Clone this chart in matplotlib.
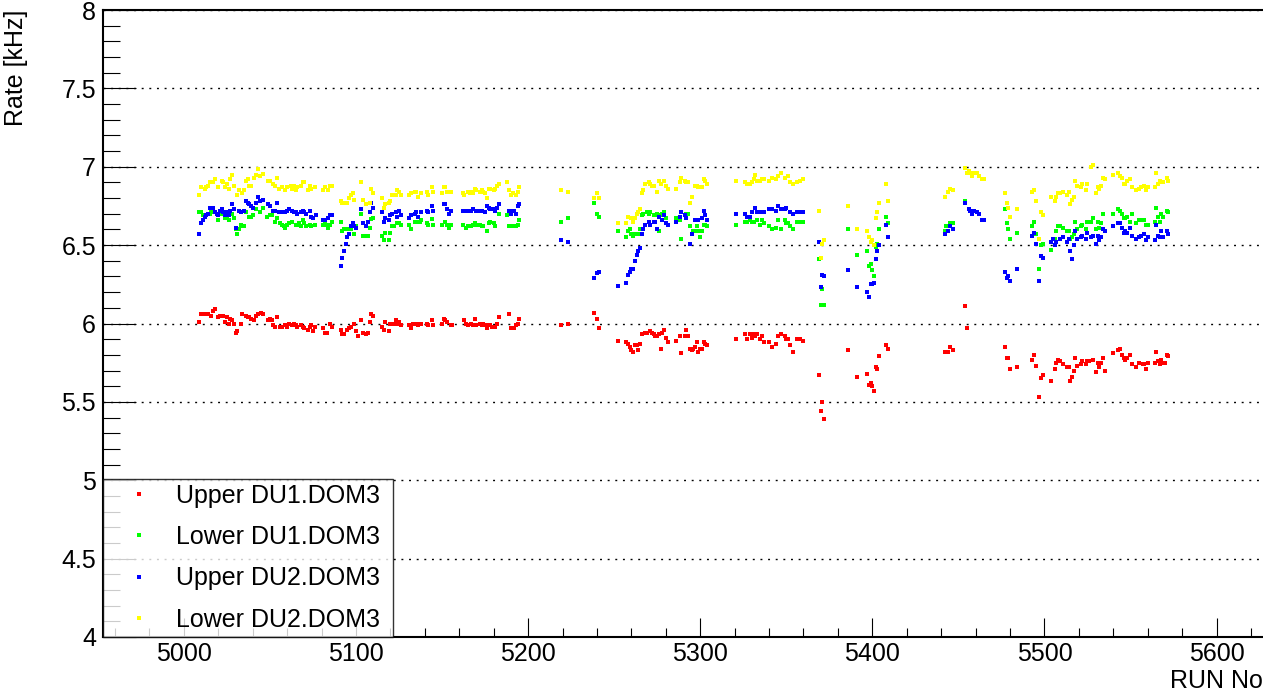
import matplotlib
matplotlib.use("Agg")
import matplotlib.pyplot as plt
from matplotlib.ticker import MultipleLocator, FormatStrFormatter
from matplotlib.lines import Line2D

plt.rcParams["font.family"] = ["Liberation Sans", "DejaVu Sans"]

# ---- data: run number / rate [kHz] ----
labels = ["Upper DU1.DOM3", "Lower DU1.DOM3", "Upper DU2.DOM3", "Lower DU2.DOM3"]
colors = ["#ff0000", "#00ff00", "#0000ff", "#ffff00"]

up1_run = [5009, 5010, 5012, 5014, 5016, 5017, 5018, 5020, 5021, 5023, 5024, 5025, 5026, 5027, 5028, 5029, 5030, 5031, 5033, 5034,
           5036, 5037, 5038, 5039, 5041, 5042, 5043, 5045, 5046, 5049, 5050, 5051, 5052, 5053, 5054, 5056, 5057, 5059, 5060, 5061,
           5063, 5064, 5065, 5066, 5068, 5069, 5070, 5072, 5073, 5074, 5075, 5076, 5081, 5082, 5083, 5085, 5086, 5091, 5092, 5093,
           5095, 5096, 5097, 5099, 5100, 5101,
           5103, 5104, 5106, 5107, 5108, 5109, 5110, 5115, 5116, 5117, 5119, 5120, 5121, 5122, 5123, 5124, 5125, 5126, 5131, 5132,
           5133, 5135, 5136, 5137, 5138, 5141, 5142, 5144, 5145, 5150, 5151, 5152, 5153, 5155, 5156, 5163, 5164, 5165, 5167, 5168,
           5169, 5170, 5172, 5173, 5174, 5175, 5176, 5177, 5178, 5179, 5181, 5182, 5183, 5189, 5190, 5191, 5192, 5193, 5194, 5195,
           5219, 5223, 5238, 5240, 5241, 5252, 5257, 5258, 5259, 5260, 5261, 5262, 5263, 5264, 5265, 5266, 5268, 5269, 5271, 5272,
           5273, 5274, 5275, 5276, 5277, 5278, 5279, 5280, 5281, 5286, 5288, 5289, 5291, 5292, 5293, 5294, 5295, 5296, 5297, 5298,
           5299, 5300, 5301, 5302, 5303, 5304,
           5321, 5326, 5327, 5329, 5330, 5331, 5332, 5333, 5335, 5336, 5337, 5340, 5342, 5344, 5345, 5347, 5349, 5350, 5351, 5352,
           5354, 5356, 5358, 5360, 5369, 5370, 5371, 5372, 5386, 5391, 5397, 5398, 5399, 5400, 5401, 5402, 5403, 5404, 5408, 5409,
           5442, 5444, 5445, 5447, 5454, 5455, 5477, 5478, 5479, 5480, 5484, 5493, 5494, 5495, 5497, 5498, 5499, 5504, 5506, 5507,
           5508, 5509, 5511, 5513, 5514,
           5515, 5516, 5517, 5518, 5519, 5521, 5522, 5524, 5525, 5526, 5528, 5530, 5531, 5532, 5533, 5534, 5535, 5540, 5543, 5544,
           5545, 5546, 5547, 5548, 5550, 5551, 5553, 5555, 5557, 5558, 5559, 5560, 5564, 5565, 5566, 5567, 5568, 5569, 5570, 5571,
           5572]
up1_rate = [6.01, 6.06, 6.06, 6.06, 6.05, 6.08, 6.09, 6.04, 6.05, 6.05, 6.01, 6.04, 6.00, 6.03, 6.02, 6.00, 5.94, 5.95, 6.00, 6.06,
            6.05, 6.04, 6.04, 6.03, 6.02, 6.05, 6.06, 6.07, 6.06, 6.02, 6.03, 6.02, 5.99, 5.98, 6.04, 5.98, 5.98, 5.99, 5.98, 6.00,
            5.99, 6.00, 5.99, 5.98, 5.99, 5.98, 5.97, 5.96, 5.98, 5.99, 5.95, 5.98, 5.97, 5.94, 5.94, 6.00, 5.98, 5.96, 5.93, 5.93,
            5.96, 5.97, 5.98, 6.00, 5.95, 5.92,
            6.02, 5.94, 5.93, 5.94, 6.01, 6.06, 6.05, 5.98, 5.96, 6.01, 5.95, 6.00, 6.00, 6.00, 6.02, 6.00, 6.01, 5.99, 5.99, 5.97,
            6.00, 6.00, 5.99, 6.00, 6.00, 6.00, 5.99, 6.02, 5.99, 6.00, 6.03, 6.02, 6.01, 5.99, 5.99, 6.02, 6.00, 5.99, 6.00, 5.99,
            6.03, 5.99, 6.00, 5.99, 6.00, 5.99, 5.97, 5.99, 5.99, 5.98, 5.98, 6.00, 6.04, 6.06, 5.97, 5.97, 5.97, 5.99, 6.00, 6.03,
            5.99, 6.00, 6.07, 6.03, 5.97, 5.89, 5.88, 5.87, 5.85, 5.83, 5.82, 5.86, 5.86, 5.83, 5.87, 5.93, 5.94, 5.94, 5.95, 5.94,
            5.93, 5.92, 5.92, 5.93, 5.84, 5.94, 5.96, 5.91, 5.88, 5.89, 5.92, 5.81, 5.92, 5.96, 5.92, 5.84, 5.83, 5.84, 5.85, 5.88,
            5.82, 5.84, 5.84, 5.88, 5.87, 5.86,
            5.90, 5.93, 5.90, 5.93, 5.91, 5.93, 5.92, 5.93, 5.90, 5.92, 5.88, 5.88, 5.85, 5.87, 5.92, 5.93, 5.92, 5.90, 5.90, 5.86,
            5.82, 5.90, 5.90, 5.89, 5.67, 5.44, 5.50, 5.39, 5.83, 5.66, 5.68, 5.61, 5.62, 5.60, 5.57, 5.72, 5.71, 5.79, 5.86, 5.84,
            5.82, 5.82, 5.85, 5.83, 6.11, 5.97, 5.85, 5.78, 5.78, 5.71, 5.72, 5.77, 5.80, 5.73, 5.53, 5.65, 5.67, 5.63, 5.71, 5.75,
            5.77, 5.76, 5.74, 5.72, 5.72,
            5.63, 5.66, 5.70, 5.78, 5.73, 5.74, 5.76, 5.74, 5.76, 5.76, 5.77, 5.69, 5.75, 5.72, 5.75, 5.78, 5.70, 5.81, 5.83, 5.84,
            5.80, 5.78, 5.77, 5.78, 5.80, 5.74, 5.72, 5.75, 5.74, 5.74, 5.71, 5.75, 5.75, 5.82, 5.76, 5.74, 5.77, 5.75, 5.75, 5.80,
            5.79]

lo1_run = [5009, 5010, 5011, 5013, 5014, 5015, 5016, 5018, 5020, 5022, 5023, 5024, 5025, 5026, 5028, 5029, 5030, 5031, 5032, 5033,
           5034, 5035, 5036, 5038, 5039, 5040, 5042, 5044, 5046, 5048, 5050, 5051, 5053, 5054, 5056, 5057, 5058, 5059, 5060, 5061,
           5063, 5065, 5066, 5067, 5068, 5069, 5070, 5071, 5073, 5074, 5076, 5081, 5082, 5083, 5084, 5085, 5086, 5091, 5092, 5093,
           5095, 5096, 5097, 5099, 5100,
           5103, 5104, 5106, 5107, 5108, 5109, 5110, 5115, 5116, 5117, 5119, 5120, 5121, 5122, 5124, 5125, 5126, 5131, 5132, 5134,
           5135, 5137, 5138, 5141, 5142, 5144, 5145, 5150, 5152, 5153, 5154, 5155, 5162, 5164, 5165, 5167, 5168, 5169, 5170, 5172,
           5173, 5174, 5176, 5177, 5178, 5180, 5181, 5183, 5188, 5189, 5191, 5192, 5193, 5194, 5195,
           5219, 5223, 5238, 5240, 5241, 5252, 5257, 5258, 5259, 5260, 5261, 5262, 5264, 5265, 5266, 5267, 5269, 5270, 5271, 5273,
           5274, 5275, 5276, 5277, 5278, 5279, 5280, 5281, 5286, 5288, 5289, 5292, 5293, 5294, 5295, 5296, 5297, 5298, 5299, 5300,
           5301, 5302, 5303, 5304,
           5321, 5326, 5327, 5329, 5330, 5331, 5333, 5335, 5336, 5337, 5340, 5342, 5344, 5345, 5347, 5349, 5350, 5351, 5352, 5354,
           5356, 5358, 5360, 5369, 5370, 5371, 5372, 5386, 5391, 5397, 5398, 5399, 5400, 5401, 5402, 5403, 5404, 5408, 5409,
           5442, 5443, 5445, 5447, 5454, 5477, 5478, 5479, 5480, 5484, 5493, 5494, 5495, 5497, 5498, 5499, 5504, 5506, 5507, 5508,
           5509, 5511, 5513, 5514,
           5515, 5516, 5517, 5518, 5519, 5521, 5522, 5524, 5525, 5527, 5528, 5530, 5531, 5532, 5533, 5534, 5540, 5543, 5544, 5545,
           5546, 5547, 5548, 5550, 5551, 5553, 5555, 5556, 5558, 5559, 5560, 5564, 5565, 5566, 5567, 5568, 5569, 5571, 5572]
lo1_rate = [6.71, 6.71, 6.69, 6.69, 6.70, 6.70, 6.71, 6.71, 6.66, 6.70, 6.70, 6.67, 6.67, 6.66, 6.70, 6.67, 6.60, 6.57, 6.60, 6.63,
            6.62, 6.62, 6.71, 6.68, 6.68, 6.69, 6.73, 6.71, 6.74, 6.68, 6.69, 6.69, 6.65, 6.67, 6.64, 6.63, 6.62, 6.61, 6.63, 6.64,
            6.65, 6.63, 6.63, 6.64, 6.62, 6.66, 6.64, 6.62, 6.63, 6.62, 6.63, 6.63, 6.64, 6.63, 6.61, 6.63, 6.65, 6.65, 6.59, 6.60,
            6.60, 6.60, 6.60, 6.57, 6.62,
            6.70, 6.56, 6.56, 6.56, 6.61, 6.665, 6.67, 6.56, 6.53, 6.58, 6.53, 6.58, 6.62, 6.62, 6.64, 6.64, 6.63, 6.63, 6.60, 6.65,
            6.65, 6.65, 6.66, 6.64, 6.63, 6.665, 6.63, 6.63, 6.65, 6.63, 6.61, 6.63, 6.63, 6.61, 6.62, 6.62, 6.63, 6.64, 6.63, 6.63,
            6.62, 6.62, 6.59, 6.64, 6.65, 6.64, 6.62, 6.70, 6.69, 6.62, 6.62, 6.62, 6.62, 6.63, 6.66,
            6.65, 6.67, 6.77, 6.70, 6.68, 6.59, 6.55, 6.59, 6.60, 6.57, 6.56, 6.57, 6.57, 6.60, 6.69, 6.70, 6.71, 6.70, 6.71, 6.69,
            6.69, 6.70, 6.59, 6.69, 6.70, 6.71, 6.67, 6.63, 6.67, 6.66, 6.54, 6.70, 6.70, 6.62, 6.57, 6.59, 6.59, 6.62, 6.59, 6.55,
            6.59, 6.63, 6.63, 6.62,
            6.63, 6.65, 6.65, 6.66, 6.65, 6.65, 6.66, 6.63, 6.66, 6.64, 6.62, 6.60, 6.61, 6.66, 6.60, 6.66, 6.64, 6.64, 6.62, 6.60,
            6.65, 6.65, 6.65, 6.41, 6.12, 6.22, 6.12, 6.60, 6.44, 6.46, 6.37, 6.38, 6.34, 6.30, 6.49, 6.51, 6.60, 6.68, 6.64,
            6.59, 6.62, 6.64, 6.64, 6.78, 6.73, 6.64, 6.60, 6.54, 6.58, 6.62, 6.65, 6.57, 6.35, 6.50, 6.51, 6.47, 6.54, 6.59, 6.62,
            6.62, 6.61, 6.59, 6.59,
            6.54, 6.55, 6.57, 6.65, 6.60, 6.62, 6.63, 6.60, 6.65, 6.65, 6.67, 6.60, 6.65, 6.61, 6.64, 6.70, 6.70, 6.73, 6.72, 6.70,
            6.67, 6.67, 6.68, 6.65, 6.70, 6.64, 6.66, 6.66, 6.66, 6.63, 6.63, 6.65, 6.74, 6.68, 6.65, 6.70, 6.68, 6.72, 6.71]

up2_run = [5009, 5010, 5011, 5012, 5013, 5014, 5015, 5016, 5017, 5018, 5019, 5020, 5021, 5022, 5023, 5024, 5025, 5026, 5027, 5028,
           5029, 5030, 5032, 5033, 5035, 5036, 5037, 5038, 5039, 5040, 5042, 5043, 5044, 5046, 5049, 5050, 5052, 5053, 5054, 5055,
           5057, 5058, 5059, 5060, 5061, 5063, 5064, 5065, 5066, 5068, 5069, 5070, 5071, 5073, 5074, 5075, 5077, 5081, 5082, 5084,
           5085, 5086, 5091, 5092, 5093, 5094, 5095, 5096, 5097, 5098, 5099, 5100,
           5103, 5104, 5106, 5107, 5108, 5109, 5110, 5115, 5116, 5117, 5119, 5120, 5121, 5123, 5124, 5125, 5126, 5131, 5132, 5134,
           5135, 5136, 5138, 5141, 5142, 5144, 5145, 5151, 5152, 5153, 5154, 5155, 5162, 5164, 5165, 5167, 5168, 5170, 5171, 5172,
           5173, 5175, 5176, 5177, 5178, 5180, 5181, 5182, 5183, 5189, 5190, 5191, 5192, 5193, 5194, 5195,
           5219, 5223, 5238, 5240, 5241, 5252, 5257, 5258, 5259, 5260, 5261, 5262, 5263, 5264, 5265, 5266, 5267, 5268, 5270, 5271,
           5273, 5274, 5275, 5276, 5278, 5279, 5280, 5281, 5286, 5288, 5289, 5291, 5292, 5294, 5295, 5297, 5298, 5299, 5301, 5302,
           5303, 5304,
           5321, 5326, 5327, 5329, 5330, 5332, 5333, 5335, 5336, 5337, 5340, 5342, 5344, 5345, 5347, 5349, 5350, 5352, 5354, 5356,
           5358, 5360, 5369, 5370, 5371, 5372, 5386, 5391, 5397, 5398, 5399, 5400, 5401, 5402, 5403, 5404, 5408, 5409,
           5442, 5444, 5445, 5447, 5454, 5456, 5457, 5458, 5459, 5461, 5462, 5464, 5465, 5477, 5478, 5479, 5480, 5484, 5493, 5494,
           5495, 5497, 5498, 5499, 5504, 5505, 5506, 5507, 5509, 5511, 5513, 5514,
           5515, 5516, 5517, 5518, 5519, 5521, 5522, 5524, 5525, 5527, 5528, 5530, 5531, 5532, 5533, 5534, 5535, 5540, 5543, 5544,
           5545, 5546, 5547, 5548, 5550, 5551, 5553, 5555, 5556, 5558, 5559, 5560, 5564, 5565, 5566, 5567, 5568, 5569, 5571, 5572]
up2_rate = [6.57, 6.64, 6.66, 6.68, 6.69, 6.70, 6.74, 6.74, 6.74, 6.71, 6.70, 6.69, 6.72, 6.73, 6.71, 6.69, 6.71, 6.69, 6.72, 6.76,
            6.73, 6.61, 6.72, 6.71, 6.72, 6.78, 6.77, 6.76, 6.75, 6.74, 6.77, 6.81, 6.78, 6.79, 6.76, 6.75, 6.72, 6.72, 6.77, 6.71,
            6.71, 6.71, 6.71, 6.72, 6.73, 6.72, 6.71, 6.71, 6.70, 6.71, 6.72, 6.71, 6.70, 6.72, 6.68, 6.67, 6.69, 6.66, 6.66, 6.67,
            6.69, 6.69, 6.37, 6.42, 6.46, 6.51, 6.55, 6.57, 6.62, 6.64, 6.62, 6.61,
            6.73, 6.64, 6.62, 6.65, 6.71, 6.77, 6.74, 6.71, 6.65, 6.67, 6.66, 6.69, 6.70, 6.71, 6.68, 6.72, 6.69, 6.67, 6.69, 6.70,
            6.71, 6.68, 6.71, 6.72, 6.71, 6.75, 6.72, 6.76, 6.76, 6.73, 6.70, 6.72, 6.72, 6.72, 6.72, 6.72, 6.73, 6.72, 6.72, 6.72,
            6.72, 6.71, 6.75, 6.74, 6.73, 6.73, 6.72, 6.74, 6.76, 6.72, 6.70, 6.72, 6.72, 6.70, 6.75, 6.76,
            6.53, 6.52, 6.29, 6.32, 6.33, 6.24, 6.26, 6.31, 6.33, 6.35, 6.35, 6.40, 6.44, 6.46, 6.48, 6.57, 6.60, 6.63, 6.65, 6.63,
            6.65, 6.65, 6.60, 6.68, 6.66, 6.69, 6.64, 6.63, 6.65, 6.68, 6.71, 6.69, 6.67, 6.51, 6.57, 6.66, 6.66, 6.66, 6.67, 6.72,
            6.69, 6.66,
            6.70, 6.70, 6.68, 6.68, 6.71, 6.74, 6.71, 6.71, 6.71, 6.71, 6.73, 6.73, 6.72, 6.75, 6.73, 6.73, 6.74, 6.71, 6.70, 6.71,
            6.71, 6.71, 6.52, 6.23, 6.31, 6.30, 6.34, 6.23, 6.20, 6.17, 6.25, 6.25, 6.26, 6.41, 6.46, 6.50, 6.63, 6.55,
            6.57, 6.59, 6.62, 6.60, 6.77, 6.73, 6.72, 6.70, 6.72, 6.71, 6.70, 6.66, 6.66, 6.33, 6.29, 6.30, 6.27, 6.35, 6.56, 6.58,
            6.51, 6.27, 6.43, 6.42, 6.52, 6.54, 6.50, 6.52, 6.54, 6.55, 6.52, 6.54,
            6.46, 6.41, 6.50, 6.59, 6.54, 6.55, 6.56, 6.54, 6.58, 6.55, 6.56, 6.51, 6.56, 6.53, 6.55, 6.60, 6.59, 6.62, 6.64, 6.64,
            6.61, 6.58, 6.59, 6.58, 6.61, 6.56, 6.54, 6.55, 6.56, 6.57, 6.53, 6.55, 6.53, 6.63, 6.56, 6.55, 6.59, 6.55, 6.59, 6.57]

lo2_run = [5009, 5010, 5012, 5013, 5014, 5015, 5017, 5018, 5020, 5022, 5023, 5024, 5025, 5026, 5027, 5028, 5029, 5031, 5032, 5034,
           5035, 5036, 5037, 5038, 5039, 5041, 5042, 5043, 5044, 5046, 5049, 5050, 5052, 5053, 5054, 5055, 5057, 5059, 5060, 5062,
           5063, 5064, 5065, 5066, 5068, 5069, 5070, 5072, 5073, 5074, 5076, 5081, 5082, 5084, 5085, 5086, 5091, 5092, 5094, 5095,
           5096, 5097, 5098, 5099,
           5103, 5104, 5106, 5108, 5109, 5110, 5115, 5116, 5117, 5119, 5120, 5121, 5123, 5124, 5125, 5126, 5131, 5132, 5134, 5135,
           5136, 5138, 5141, 5142, 5144, 5145, 5150, 5151, 5152, 5153, 5155, 5162, 5163, 5165, 5166, 5167, 5168, 5169, 5170, 5172,
           5173, 5174, 5175, 5176, 5177, 5178, 5180, 5181, 5182, 5183, 5188, 5189, 5190, 5191, 5193, 5194, 5195,
           5219, 5223, 5238, 5240, 5241, 5252, 5257, 5258, 5260, 5261, 5262, 5263, 5264, 5265, 5266, 5267, 5268, 5270, 5271, 5272,
           5273, 5275, 5276, 5277, 5279, 5280, 5281, 5286, 5288, 5289, 5291, 5292, 5293, 5294, 5295, 5297, 5298, 5299, 5300, 5301,
           5302, 5303, 5304,
           5321, 5326, 5327, 5329, 5330, 5331, 5332, 5333, 5335, 5336, 5337, 5340, 5342, 5344, 5345, 5347, 5349, 5351, 5352, 5354,
           5356, 5358, 5360, 5369, 5370, 5371, 5372, 5386, 5391, 5397, 5398, 5399, 5400, 5401, 5402, 5403, 5404, 5408, 5409,
           5442, 5444, 5445, 5447, 5454, 5455, 5456, 5457, 5458, 5459, 5461, 5462, 5464, 5465, 5477, 5478, 5479, 5480, 5484, 5493,
           5494, 5495, 5497, 5498, 5499, 5504, 5506, 5507, 5508, 5509, 5511, 5513, 5514,
           5515, 5516, 5517, 5518, 5519, 5521, 5522, 5524, 5525, 5527, 5528, 5530, 5531, 5532, 5533, 5534, 5535, 5540, 5543, 5544,
           5545, 5546, 5547, 5548, 5550, 5551, 5553, 5555, 5556, 5558, 5559, 5560, 5564, 5565, 5566, 5567, 5568, 5569, 5571, 5572]
lo2_rate = [6.82, 6.87, 6.86, 6.87, 6.88, 6.90, 6.90, 6.92, 6.87, 6.91, 6.90, 6.87, 6.89, 6.86, 6.92, 6.945, 6.88, 6.82, 6.85, 6.83,
            6.85, 6.91, 6.92, 6.88, 6.88, 6.93, 6.945, 6.985, 6.94, 6.955, 6.91, 6.91, 6.89, 6.88, 6.93, 6.86, 6.87, 6.85, 6.87, 6.88,
            6.86, 6.88, 6.85, 6.87, 6.88, 6.90, 6.90, 6.85, 6.88, 6.86, 6.87, 6.85, 6.87, 6.85, 6.88, 6.88, 6.78, 6.77, 6.77, 6.77,
            6.80, 6.82, 6.83, 6.79,
            6.90, 6.79, 6.76, 6.77, 6.86, 6.83, 6.80, 6.74, 6.76, 6.77, 6.78, 6.82, 6.82, 6.85, 6.84, 6.82, 6.82, 6.83, 6.84, 6.84,
            6.81, 6.83, 6.84, 6.82, 6.87, 6.84, 6.83, 6.87, 6.87, 6.84, 6.84, 6.83, 6.82, 6.84, 6.83, 6.84, 6.83, 6.86, 6.85, 6.84,
            6.85, 6.84, 6.83, 6.80, 6.86, 6.86, 6.85, 6.86, 6.88, 6.89, 6.90, 6.85, 6.82, 6.83, 6.82, 6.84, 6.87,
            6.85, 6.84, 6.80, 6.83, 6.80, 6.64, 6.64, 6.68, 6.67, 6.65, 6.67, 6.70, 6.71, 6.73, 6.83, 6.85, 6.89, 6.90, 6.89, 6.88,
            6.88, 6.84, 6.91, 6.89, 6.91, 6.88, 6.86, 6.86, 6.90, 6.93, 6.91, 6.90, 6.90, 6.77, 6.81, 6.88, 6.88, 6.87, 6.87, 6.87,
            6.92, 6.91, 6.89,
            6.91, 6.90, 6.89, 6.89, 6.90, 6.92, 6.945, 6.91, 6.91, 6.92, 6.92, 6.91, 6.93, 6.92, 6.94, 6.96, 6.93, 6.94, 6.90, 6.89,
            6.90, 6.91, 6.92, 6.72, 6.42, 6.51, 6.53, 6.75, 6.60, 6.59, 6.55, 6.52, 6.53, 6.50, 6.67, 6.71, 6.77, 6.89, 6.78,
            6.81, 6.84, 6.86, 6.85, 6.99, 6.96, 6.97, 6.96, 6.94, 6.96, 6.96, 6.94, 6.92, 6.92, 6.83, 6.77, 6.74, 6.68, 6.73, 6.84,
            6.85, 6.78, 6.54, 6.71, 6.69, 6.81, 6.78, 6.81, 6.83, 6.83, 6.84, 6.82, 6.84,
            6.76, 6.79, 6.81, 6.91, 6.88, 6.87, 6.89, 6.85, 6.89, 7.00, 7.01, 6.83, 6.87, 6.86, 6.88, 6.93, 6.92, 6.95, 6.96, 6.94,
            6.93, 6.89, 6.89, 6.91, 6.92, 6.87, 6.85, 6.86, 6.87, 6.88, 6.85, 6.87, 6.87, 6.96, 6.89, 6.91, 6.90, 6.90, 6.93, 6.91]

series_runs = [up1_run, lo1_run, up2_run, lo2_run]
series_rates = [up1_rate, lo1_rate, up2_rate, lo2_rate]

# ---- figure ----
W, H = 1263, 693
fig = plt.figure(figsize=(W / 100, H / 100), dpi=100)
ax = fig.add_axes([103 / W, 1 - 637 / H, (W - 103) / W, (637 - 10) / H])

for runs, rates, lab, col in zip(series_runs, series_rates, labels, colors):
    ax.plot(runs, rates, linestyle="none", marker="s", markersize=2.2,
            markeredgewidth=0, color=col, label=lab)

ax.set_xlim(4953, 5627)
ax.set_ylim(4, 8)

ax.xaxis.set_major_locator(MultipleLocator(100))
ax.xaxis.set_minor_locator(MultipleLocator(20))
ax.yaxis.set_major_locator(MultipleLocator(0.5))
ax.yaxis.set_minor_locator(MultipleLocator(0.1))
ax.yaxis.set_major_formatter(FormatStrFormatter("%g"))

ax.tick_params(axis="x", which="major", direction="in", length=13.7, width=0.8, labelsize=18, pad=3.5)
ax.tick_params(axis="x", which="minor", direction="in", length=6.5, width=0.8)
ax.tick_params(axis="y", which="major", direction="in", length=24, width=0.8, labelsize=18, pad=5)
ax.tick_params(axis="y", which="minor", direction="in", length=12, width=0.8)
ax.tick_params(top=False, right=False, which="both")

for side in ["left", "bottom", "top"]:
    ax.spines[side].set_linewidth(1.5)
ax.spines["right"].set_visible(False)

ax.yaxis.grid(True, which="major", color="black", linewidth=1.0, linestyle=(0, (1.4, 4.1)))
ax.set_axisbelow(True)

# legend box sits in the lower left corner, top edge on the 5.0 line
handles = [Line2D([], [], linestyle="none", marker="s", markersize=2.2, markeredgewidth=0, color=c) for c in colors]
leg = ax.legend(handles, labels, loc="lower left", bbox_to_anchor=(0, 0, 290 / 1160, 0.25), mode="expand",
                borderaxespad=0, fontsize=18, frameon=True, fancybox=False, edgecolor="black",
                borderpad=0.2, handlelength=2.48, handletextpad=0.24, labelspacing=0.7, numpoints=1)
leg.get_frame().set_linewidth(1.0)

fig.text(16 / W, 1 - 10 / H, "Rate [kHz]", rotation=90, ha="center", va="top", fontsize=18)
fig.text(1.0, 0.007, "RUN No", ha="right", va="baseline", fontsize=18)

fig.savefig("out.png", dpi=100)
